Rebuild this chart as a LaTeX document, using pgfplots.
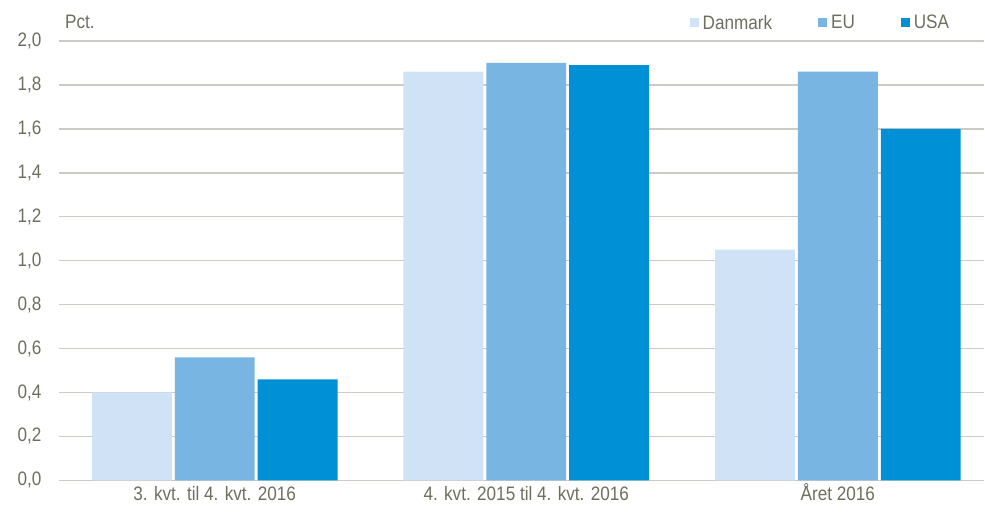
\documentclass[border=0pt]{standalone}
\usepackage{fontspec}
\setmainfont{Liberation Sans}[FakeStretch=0.88]
\usepackage{pgfplots}
\pgfplotsset{compat=1.18}
\definecolor{dk}{HTML}{D0E2F5}
\definecolor{eu}{HTML}{78B5E3}
\definecolor{us}{HTML}{0090D6}
\definecolor{txt}{RGB}{110,110,96}
\definecolor{grd}{RGB}{204,204,196}
\begin{document}
\begin{tikzpicture}
\begin{axis}[
  at={(0pt,0pt)}, anchor=south west,
  x=312pt, y=220pt,
  xmin=-0.5, xmax=2.47, ymin=0, ymax=2.0,
  ybar=3pt, bar width=80pt,
  axis x line*=bottom, axis y line*=left,
  x axis line style={grd, line width=1.5pt},
  y axis line style={draw=none},
  xtick={0,1,2},
  xticklabels={3. kvt. til 4. kvt. 2016, 4. kvt. 2015 til 4. kvt. 2016, Året 2016},
  ytick={0,0.2,...,2.0},
  major tick length=0pt,
  ymajorgrids, grid style={grd, line width=1.5pt},
  /pgf/number format/fixed, /pgf/number format/fixed zerofill,
  /pgf/number format/precision=1, /pgf/number format/use comma,
  /pgf/number format/assume math mode=true,
  ticklabel style={font=\fontsize{19.5}{22}\selectfont, text=txt},
  yticklabel style={anchor=east, xshift=-14pt},
  xticklabel style={anchor=north, text height=14pt, text depth=4pt, yshift=-3pt},
  legend columns=3,
  legend style={draw=none, fill=none, at={(1,1)}, anchor=south east, xshift=-30pt, yshift=6pt,
    font=\fontsize{19.5}{22}\selectfont, text=txt,
    /tikz/every odd column/.append style={column sep=2pt},
    /tikz/every even column/.append style={column sep=44pt}},
  legend image code/.code={\path[#1, draw=none] (0pt,-4pt) rectangle (9pt,5pt);},
  clip=false,
]
\addplot[fill=dk, draw=none] coordinates {(0,0.40) (1,1.86) (2,1.05)};
\addplot[fill=eu, draw=none] coordinates {(0,0.56) (1,1.90) (2,1.86)};
\addplot[fill=us, draw=none] coordinates {(0,0.46) (1,1.89) (2,1.60)};
\legend{Danmark, EU, USA}
\node[anchor=west, text=txt, font=\fontsize{19.5}{22}\selectfont, inner sep=0pt] at (rel axis cs:0,1) [xshift=6pt, yshift=19pt] {Pct.};
\end{axis}
\path[use as bounding box] (-59pt,-36pt) rectangle (926pt,481pt);
\end{tikzpicture}
\end{document}
